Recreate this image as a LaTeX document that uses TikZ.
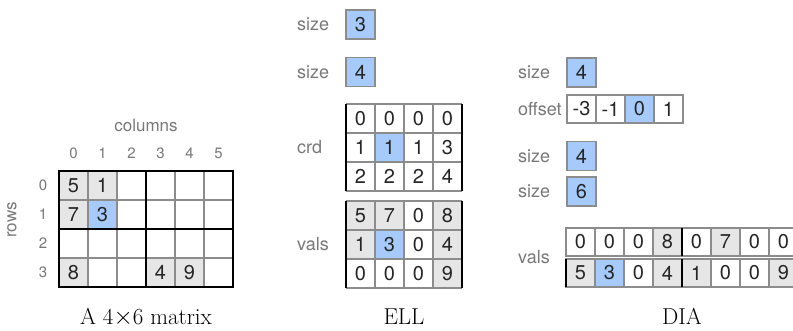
\documentclass[tikz,border=0pt]{standalone}
\usepackage{fontspec}
\setsansfont{TeX Gyre Heros}
\usepackage{tikz}
\usetikzlibrary{positioning}
\definecolor{cellgray}{RGB}{230,230,230}
\definecolor{cellblue}{RGB}{166,203,250}
\definecolor{linegray}{RGB}{140,140,140}
\definecolor{labelgray}{RGB}{120,120,120}

\tikzset{
  lbl/.style={font=\sffamily\fontsize{18}{20}\selectfont, text=labelgray, anchor=west, inner sep=0pt},
  idx/.style={font=\sffamily\fontsize{15}{17}\selectfont, text=labelgray, inner sep=0pt},
  num/.style={font=\sffamily\fontsize{20}{22}\selectfont, text=black!85, inner sep=0pt},
  captxt/.style={font=\rmfamily\fontsize{23}{26}\selectfont, anchor=base, inner sep=0pt},
  thin line/.style={draw=linegray, line width=1.2pt},
  thick line/.style={draw=black, line width=2.6pt},
  sizebox/.style={thin line, fill=cellblue, minimum size=29pt, inner sep=0pt,
    font=\sffamily\fontsize{20}{22}\selectfont, text=black!85}
}

\begin{document}
\begin{tikzpicture}[x=1pt,y=1pt]
\useasboundingbox (0,0) rectangle (793,330);

% the dense matrix
\begin{scope}[shift={(59,43)}]
\foreach \x/\y/\c in {
    0/0/cellgray, 1/0/cellgray, 0/1/cellgray, 1/1/cellblue,
    0/3/cellgray, 3/3/cellgray, 4/3/cellgray}
    \fill[\c] (29*\x, 87-29*\y) rectangle ++(29,29);
\draw[thin line, step=29] (0,0) grid (174,116);
\draw[thick line] (0,0) rectangle (174,116)
    (87,0) -- (87,116) (0,58) -- (174,58);

\foreach \x/\y/\m in {
    0/0/5, 1/0/1, 0/1/7, 1/1/3, 0/3/8, 3/3/4, 4/3/9}
    \node[num] (a-\x-\y) at (29*\x + 14.5, 101.5 - 29*\y) {\m};

\foreach \i in {0,...,5}
    \node[idx] (col-\i) at (29*\i + 14.5, 134) {\i};
\foreach \i in {0,...,3}
    \node[idx] (row-\i) at (-16, 101.5 - 29*\i) {\i};
\node[idx, font=\sffamily\fontsize{17}{19}\selectfont] (columns) at (87,162) {columns};
\node[idx, font=\sffamily\fontsize{17}{19}\selectfont, rotate=90] (rows) at (-47,67) {rows};
\node[captxt] (matcap) at (87,-37) {A 4$\times$6 matrix};
\end{scope}

% ELL
\begin{scope}[shift={(346,42)}]
\node[sizebox] (ell-size1) at (14.5,263.5) {3};
\node[sizebox] (ell-size2) at (14.5,216) {4};
\node[lbl] (ell-l1) at (-49,263.5) {size};
\node[lbl] (ell-l2) at (-49,216) {size};

\begin{scope}[shift={(0,97)}]
\fill[cellblue] (29,29) rectangle ++(29,29);
\draw[thin line, step=29] (0,0) grid (116,87);
\draw[thick line] (0,0) -- (0,87) (116,0) -- (116,87);
\foreach \x/\y/\m in {
    0/0/0, 1/0/0, 2/0/0, 3/0/0,
    0/1/1, 1/1/1, 2/1/1, 3/1/3,
    0/2/2, 1/2/2, 2/2/2, 3/2/4}
    \node[num] (crd-\x-\y) at (29*\x + 14.5, 72.5 - 29*\y) {\m};
\node[lbl] (ell-crd) at (-49,43.5) {crd};
\end{scope}

\foreach \x/\y/\m/\c in {
    0/0/5/cellgray, 1/0/7/cellgray, 2/0/0/white, 3/0/8/cellgray,
    0/1/1/cellgray, 1/1/3/cellblue, 2/1/0/white, 3/1/4/cellgray,
    0/2/0/white, 1/2/0/white, 2/2/0/white, 3/2/9/cellgray}
    {\fill[\c] (29*\x, 58 - 29*\y) rectangle ++(29,29);
     \node[num] (ellv-\x-\y) at (29*\x + 14.5, 72.5 - 29*\y) {\m};}
\draw[thin line, step=29] (0,0) grid (116,87);
\draw[thick line] (0,0) -- (0,87) (116,0) -- (116,87);
\node[lbl] (ell-vals) at (-49,43.5) {vals};
\node[captxt] (ellcap) at (58,-36) {ELL};
\end{scope}

% DIA
\begin{scope}[shift={(566,43)}]
\node[sizebox] (dia-size1) at (15.5,214.5) {4};
\node[lbl] (dia-l1) at (-48,214.5) {size};

\foreach \i/\m/\c in {0/-3/white, 1/-1/white, 2/0/cellblue, 3/1/white}
    \node[sizebox, fill=\c, minimum height=28pt] (off-\i) at (29*\i + 15.5, 178) {\m};
\node[lbl] (dia-off) at (-48,178) {offset};

\node[sizebox] (dia-size2) at (15.5,131) {4};
\node[sizebox] (dia-size3) at (15.5,95.5) {6};
\node[lbl] (dia-l2) at (-48,131) {size};
\node[lbl] (dia-l3) at (-48,95.5) {size};

\foreach \i/\m/\c in {
    0/0/white, 1/0/white, 2/0/white, 3/8/cellgray,
    4/0/white, 5/7/cellgray, 6/0/white, 7/0/white}
    {\draw[thin line, fill=\c] (29*\i,31) rectangle ++(29,28);
     \node[num] (dv1-\i) at (29*\i + 14.5, 45) {\m};}
\foreach \i/\m/\c in {
    0/5/cellgray, 1/3/cellblue, 2/0/white, 3/4/cellgray,
    4/1/cellgray, 5/0/white, 6/0/white, 7/9/cellgray}
    {\draw[thin line, fill=\c] (29*\i,0) rectangle ++(29,28);
     \node[num] (dv2-\i) at (29*\i + 14.5, 14) {\m};}
\draw[thick line] (116,31) -- (116,59) (0,0) -- (0,28) (116,0) -- (116,28);
\node[lbl] (dia-vals) at (-48,30) {vals};
\node[captxt] (diacap) at (116,-37) {DIA};
\end{scope}
\end{tikzpicture}
\end{document}
